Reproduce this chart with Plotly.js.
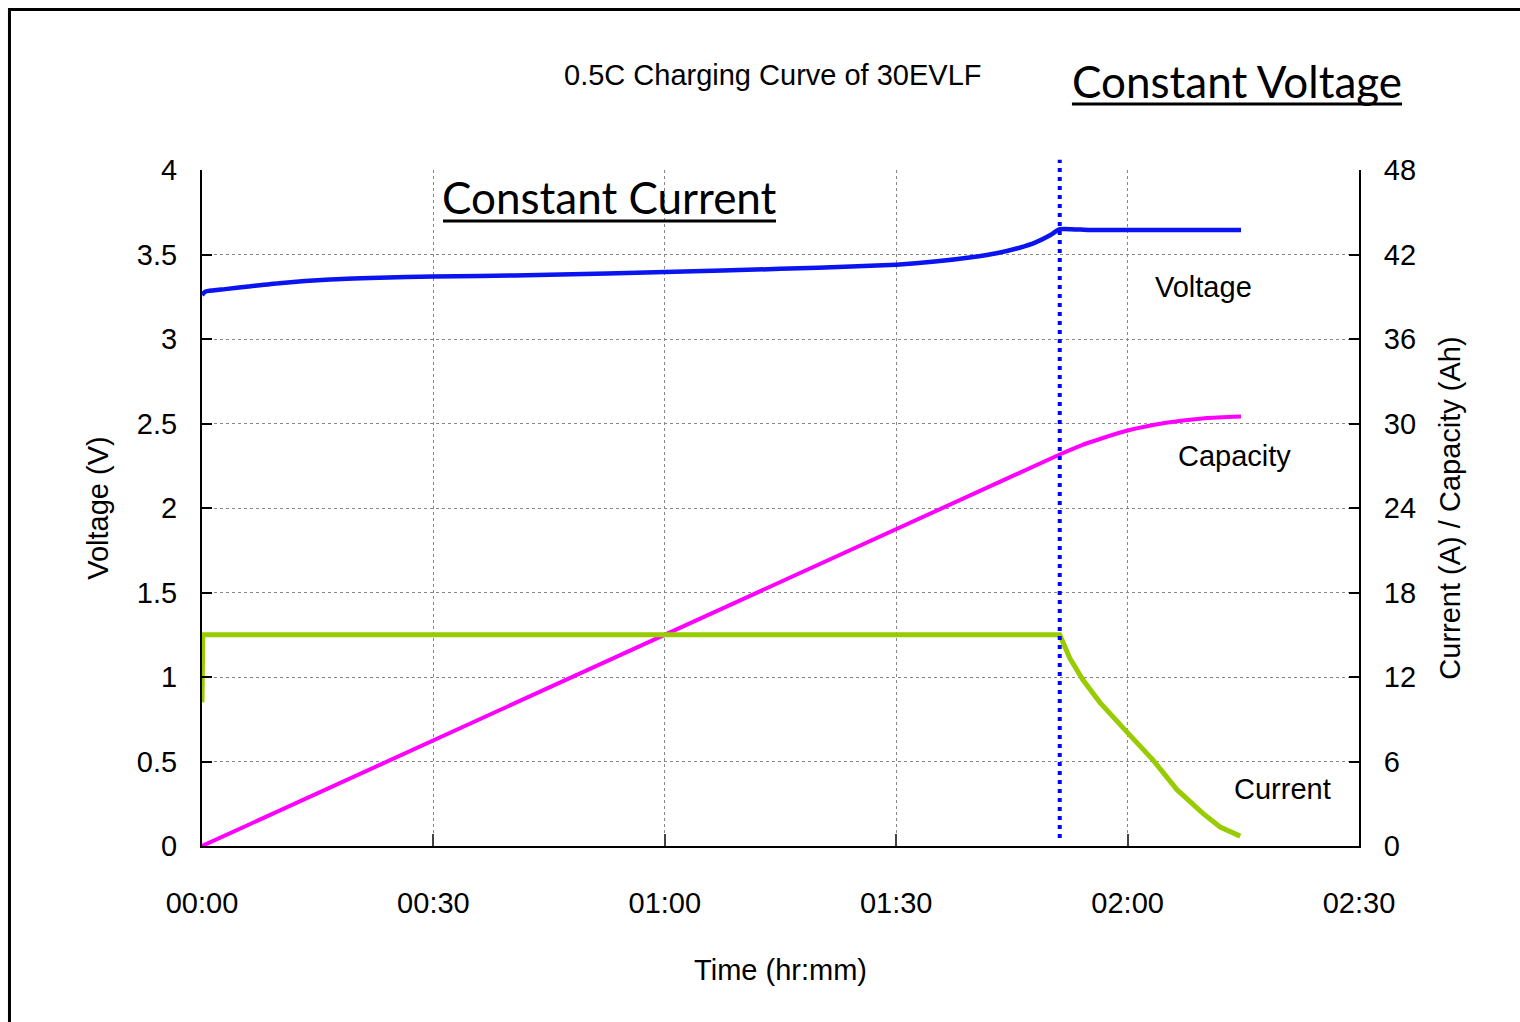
<!DOCTYPE html>
<html>
<head>
<meta charset="utf-8">
<script src="https://cdn.plot.ly/plotly-3.0.1.min.js"></script>
<style>
html,body{margin:0;padding:0;background:#fff;}
#chart{width:1520px;height:1022px;}
</style>
</head>
<body>
<div id="chart"></div>
<script>
// Time in minutes
const voltageTime = [0, 0.4, 3, 6, 10, 16.6, 23, 30, 36, 45, 60, 75, 85, 90, 95, 100, 103, 106, 108, 110, 111.2, 115, 120, 125, 130, 134.7];
const voltageValues = [3.26, 3.28, 3.295, 3.31, 3.33, 3.352, 3.362, 3.37, 3.373, 3.38, 3.396, 3.415, 3.43, 3.44, 3.458, 3.485, 3.507, 3.54, 3.57, 3.615, 3.65, 3.645, 3.645, 3.645, 3.645, 3.645];

const capacityTime = [0, 111.2, 114, 116.4, 120, 125, 130, 134.7];
const capacityValues = [0, 27.8, 28.45, 28.9, 29.5, 30.05, 30.38, 30.5];

const currentTime = [0, 0.1, 111.2, 112.5, 114.2, 116.4, 119.9, 123.3, 126.4, 129.8, 132.0, 134.6];
const currentValues = [10.2, 15, 15, 13.35, 11.8, 10.2, 8.1, 6.1, 4.0, 2.3, 1.35, 0.7];

const cvStart = 111.2;
const xTickVals = [0, 30, 60, 90, 120, 150];
const xTickText = ["00:00", "00:30", "01:00", "01:30", "02:00", "02:30"];

const FONT = "Liberation Sans, Arial, sans-serif";
const BIG = "Lato, Calibri, sans-serif";
const FS = 29;

const traces = [
  {x: voltageTime, y: voltageValues, type: 'scatter', mode: 'lines', name: 'Voltage',
   line: {color: '#0a14f0', width: 4.5, shape: 'spline', smoothing: 0.5}, yaxis: 'y'},
  {x: capacityTime, y: capacityValues, type: 'scatter', mode: 'lines', name: 'Capacity',
   line: {color: '#ff00ff', width: 4, shape: 'spline', smoothing: 0.6}, yaxis: 'y2'},
  {x: currentTime, y: currentValues, type: 'scatter', mode: 'lines', name: 'Current',
   line: {color: '#99cc00', width: 5}, yaxis: 'y2'}
];

function ann(text, x, y, font) {
  return {text: text, xref: 'paper', yref: 'paper', x: x, y: y,
          xanchor: 'center', yanchor: 'middle', showarrow: false, font: font};
}

const layout = {
  width: 1520, height: 1022,
  margin: {l: 202, r: 161, t: 170, b: 176},
  paper_bgcolor: '#fff', plot_bgcolor: '#fff',
  showlegend: false,
  font: {family: FONT, size: FS, color: '#000'},
  xaxis: {
    range: [0, 150], tickvals: xTickVals, ticktext: xTickText,
    showgrid: true, gridcolor: '#888', griddash: 'dot', gridwidth: 1,
    showline: true, linecolor: '#000', linewidth: 2,
    ticks: 'inside', ticklen: 12, tickcolor: '#444', tickwidth: 2,
    ticklabelstandoff: 30, zeroline: false,
    tickfont: {family: FONT, size: FS},
    title: {text: 'Time (hr:mm)', font: {family: FONT, size: FS}, standoff: 42}
  },
  yaxis: {
    range: [0, 4], dtick: 0.5,
    showgrid: true, gridcolor: '#888', griddash: 'dot', gridwidth: 1,
    showline: true, linecolor: '#000', linewidth: 2,
    ticks: 'inside', ticklen: 10, tickcolor: '#000', tickwidth: 2,
    ticklabelstandoff: 17, zeroline: false,
    tickfont: {family: FONT, size: FS},
    title: {text: 'Voltage (V)', font: {family: FONT, size: FS}, standoff: 20}
  },
  yaxis2: {
    range: [0, 48], dtick: 6, overlaying: 'y', side: 'right',
    showgrid: false,
    showline: true, linecolor: '#000', linewidth: 2,
    ticks: 'inside', ticklen: 10, tickcolor: '#000', tickwidth: 2,
    ticklabelstandoff: 17, zeroline: false,
    tickfont: {family: FONT, size: FS},
    title: {text: 'Current (A) / Capacity (Ah)', font: {family: FONT, size: FS}, standoff: 25}
  },
  shapes: [
    {type: 'line', xref: 'x', yref: 'paper', x0: cvStart, x1: cvStart, y0: 0.012, y1: 1.015,
     line: {color: '#0000ff', width: 4, dash: '4px,5px'}, layer: 'above'},
    {type: 'line', xref: 'paper', yref: 'paper', x0: 0.7519, x1: 1.0372, y0: 1.0976, y1: 1.0976,
     line: {color: '#000', width: 3}},
    {type: 'line', xref: 'paper', yref: 'paper', x0: 0.2083, x1: 0.4961, y0: 0.9246, y1: 0.9246,
     line: {color: '#000', width: 3}},
    {type: 'rect', xref: 'paper', yref: 'paper', x0: -0.1664, x1: 1.145, y0: -0.27, y1: 1.2374,
     line: {color: '#000', width: 3}, fillcolor: 'rgba(0,0,0,0)'}
  ],
  annotations: [
    ann('0.5C Charging Curve of 30EVLF', 0.4935, 1.1405, {family: FONT, size: FS}),
    ann('Constant Voltage', 0.8946, 1.1317, {family: BIG, size: 44}),
    ann('Constant Current', 0.3518, 0.960, {family: BIG, size: 44}),
    ann('Voltage', 0.866, 0.8269, {family: FONT, size: FS}),
    ann('Capacity', 0.892, 0.5769, {family: FONT, size: FS}),
    ann('Current', 0.9343, 0.0843, {family: FONT, size: FS})
  ]
};

Plotly.newPlot('chart', traces, layout, {displayModeBar: false, staticPlot: true});
</script>
</body>
</html>
